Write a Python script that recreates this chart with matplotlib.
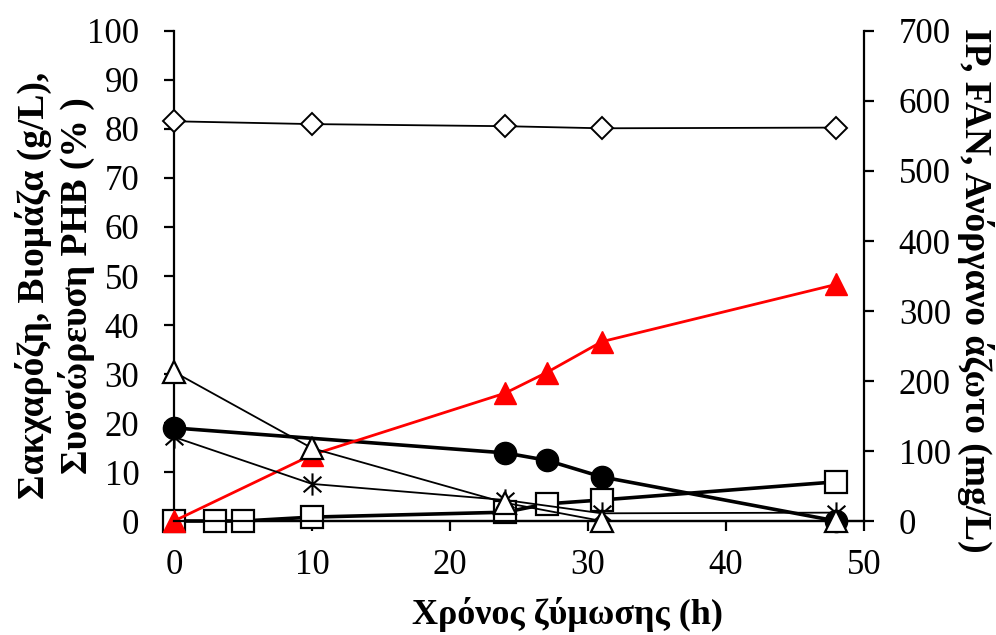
import matplotlib.pyplot as plt
from matplotlib.path import Path

plt.rcParams['font.family'] = ['Liberation Serif', 'DejaVu Serif']

# sucrose, biomass, PHB (left axis, g/L and %)
t_suc = [0, 24, 27, 31, 48]
sucrose = [19.0, 13.9, 12.4, 9.0, 0.0]
t_bio = [0, 3, 5, 10, 24, 27, 31, 48]
biomass = [0.0, 0.0, 0.0, 0.8, 1.8, 3.5, 4.3, 8.0]
t_phb = [0, 10, 24, 27, 31, 48]
phb = [0.0, 13.5, 26.1, 30.3, 36.6, 48.3]

# IP, FAN, inorganic nitrogen (right axis, mg/L)
t_n = [0, 10, 24, 31, 48]
ip = [571, 567, 564, 561, 562]
fan = [213, 104, 26, 0, 0]
inorg_n = [120, 53, 30, 11, 12]

fig = plt.figure(figsize=(9.96, 6.35), dpi=100)
ax = fig.add_axes([0.1747, 0.1795, 0.6928, 0.7717])
ax2 = ax.twinx()

# asterisk marker: vertical bar + X
star = Path([(0, -1), (0, 1), (-0.8, -0.7), (0.8, 0.7), (-0.8, 0.7), (0.8, -0.7)],
            [Path.MOVETO, Path.LINETO, Path.MOVETO, Path.LINETO, Path.MOVETO, Path.LINETO])

ax.plot(t_suc, sucrose, color='black', lw=2.6, marker='o', ms=16,
        mfc='black', mec='black', clip_on=False, zorder=3)
ax.plot(t_bio, biomass, color='black', lw=2.6, marker='s', ms=15.5,
        mfc='white', mec='black', mew=1.6, clip_on=False, zorder=3)
ax.plot(t_phb, phb, color='red', lw=2.0, marker='^', ms=16.5,
        mfc='red', mec='red', clip_on=False, zorder=4)

ax2.plot(t_n, inorg_n, color='black', lw=1.3, marker=star, ms=16,
         mfc='none', mec='black', mew=1.5, clip_on=False, zorder=3)
ax2.plot(t_n, fan, color='black', lw=1.3, marker='^', ms=16.5,
         mfc='white', mec='black', mew=1.6, clip_on=False, zorder=4)
ax2.plot(t_n, ip, color='black', lw=1.3, marker='D', ms=11,
         mfc='white', mec='black', mew=1.4, clip_on=False, zorder=4)

ax.set_xlim(0, 50)
ax.set_ylim(0, 100)
ax2.set_ylim(0, 700)
ax.set_xticks(range(0, 51, 10))
ax.set_yticks(range(0, 101, 10))
ax2.set_yticks(range(0, 701, 100))

for a in (ax, ax2):
    a.spines['top'].set_visible(False)
    for s in a.spines.values():
        s.set_linewidth(1.6)
    a.tick_params(direction='out', length=7, width=1.6, labelsize=25, pad=18)
ax.tick_params(axis='x', pad=13)
ax2.spines['left'].set_visible(False)
ax.spines['right'].set_visible(False)

ax.set_xlabel('Χρόνος ζύμωσης (h)', fontsize=26, fontweight='bold')
ax.xaxis.set_label_coords(0.57, -0.155)
ax.set_ylabel('Σακχαρόζη, Βιομάζα (g/L),\nΣυσσώρευση PHB (% )', fontsize=27,
              fontweight='bold', linespacing=1.2)
ax.yaxis.set_label_coords(-0.114, 0.48)
ax2.set_ylabel('IP, FAN, Ανόργανο άζωτο (mg/L)', fontsize=27, fontweight='bold',
               rotation=270, va='center')
ax2.yaxis.set_label_coords(1.161, 0.47)

fig.savefig('out.png', dpi=100)
